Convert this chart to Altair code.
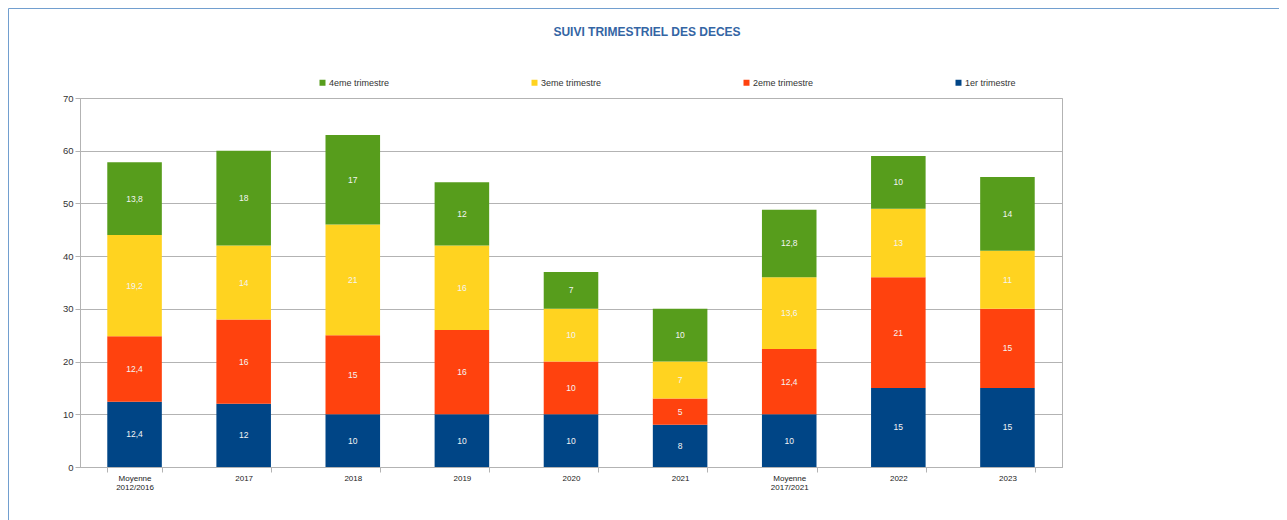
import altair as alt
import pandas as pd

categories = ["Moyenne\n2012/2016", "2017", "2018", "2019", "2020", "2021",
              "Moyenne\n2017/2021", "2022", "2023"]
q1 = [12.4, 12, 10, 10, 10, 8, 10, 15, 15]
q2 = [12.4, 16, 15, 16, 10, 5, 12.4, 21, 15]
q3 = [19.2, 14, 21, 16, 10, 7, 13.6, 13, 11]
q4 = [13.8, 18, 17, 12, 7, 10, 12.8, 10, 14]
series = ["1er trimestre", "2eme trimestre", "3eme trimestre", "4eme trimestre"]
series_colors = ["#004586", "#ff420e", "#ffd320", "#579d1c"]
y_ticks = [0, 10, 20, 30, 40, 50, 60, 70]

rows = []
for si, (name, vals) in enumerate(zip(series, [q1, q2, q3, q4])):
    for c, v in zip(categories, vals):
        rows.append({"cat": c, "serie": name, "q": si + 1, "value": v})
df = pd.DataFrame(rows)

legend_order = series[::-1]
color_order = series_colors[::-1]

FONT = "Liberation Sans"

base = alt.Chart(df).transform_stack(
    stack="value", groupby=["cat"], sort=[alt.SortField("q", order="ascending")],
    as_=["y0", "y1"]
).transform_calculate(
    mid="(datum.y0 + datum.y1) / 2",
    lab="replace(format(datum.value, '.1~f'), '.', ',')"
)

x_enc = alt.X(
    "cat:N", sort=categories,
    scale=alt.Scale(paddingInner=0.5, paddingOuter=0.25),
    axis=alt.Axis(title=None, labelAngle=0, tickBand="extent",
                  labelExpr="split(datum.label, '\\n')",
                  labelFontSize=8, labelLineHeight=9.5, labelPadding=2,
                  tickSize=5, labelColor="#222222", grid=False)
)

bars = base.mark_bar().encode(
    x=x_enc,
    y=alt.Y("y0:Q", scale=alt.Scale(domain=[0, 70], nice=False),
            axis=alt.Axis(title=None, values=y_ticks, labelFontSize=9.5,
                          tickSize=5, labelPadding=2, labelColor="#333333",
                          grid=True)),
    y2="y1:Q",
    color=alt.Color("serie:N",
                    scale=alt.Scale(domain=legend_order, range=color_order),
                    legend=alt.Legend(title=None, orient="none", legendX=238,
                                      legendY=-20, direction="horizontal",
                                      columns=4, columnPadding=140,
                                      gridAlign="all", symbolType="square",
                                      symbolSize=36, symbolStrokeWidth=0,
                                      labelFontSize=9, labelOffset=2,
                                      labelColor="#333333", padding=0)),
    order=alt.Order("q:Q")
)

labels = base.mark_text(color="#f4f4f4", fontSize=8.5, font=FONT).encode(
    x=alt.X("cat:N", sort=categories),
    y=alt.Y("mid:Q"),
    text="lab:N"
)

frame = alt.Chart(pd.DataFrame({"f": [0]})).mark_rect(
    filled=False, stroke="#729fcf", strokeWidth=1
).encode(
    x=alt.value(-71.5), x2=alt.value(1400),
    y=alt.value(-89.5), y2=alt.value(700)
)

chart = alt.layer(frame, bars, labels).properties(
    width=982, height=369,
    autosize=alt.AutoSizeParams(type="none"),
    padding={"left": 72, "top": 90, "right": 217, "bottom": 53},
    title=alt.TitleParams("SUIVI TRIMESTRIEL DES DECES", fontSize=12,
                          fontWeight="bold", color="#3465a4", anchor="middle",
                          dx=76, dy=31, offset=0, font=FONT)
).configure(font=FONT).configure_view(stroke="#b3b3b3").configure_axis(
    domainColor="#b3b3b3", gridColor="#b3b3b3", tickColor="#b3b3b3",
    labelFont=FONT
).configure_legend(labelFont=FONT)

chart.save("out.html", embed_options={"renderer": "svg", "actions": False})
